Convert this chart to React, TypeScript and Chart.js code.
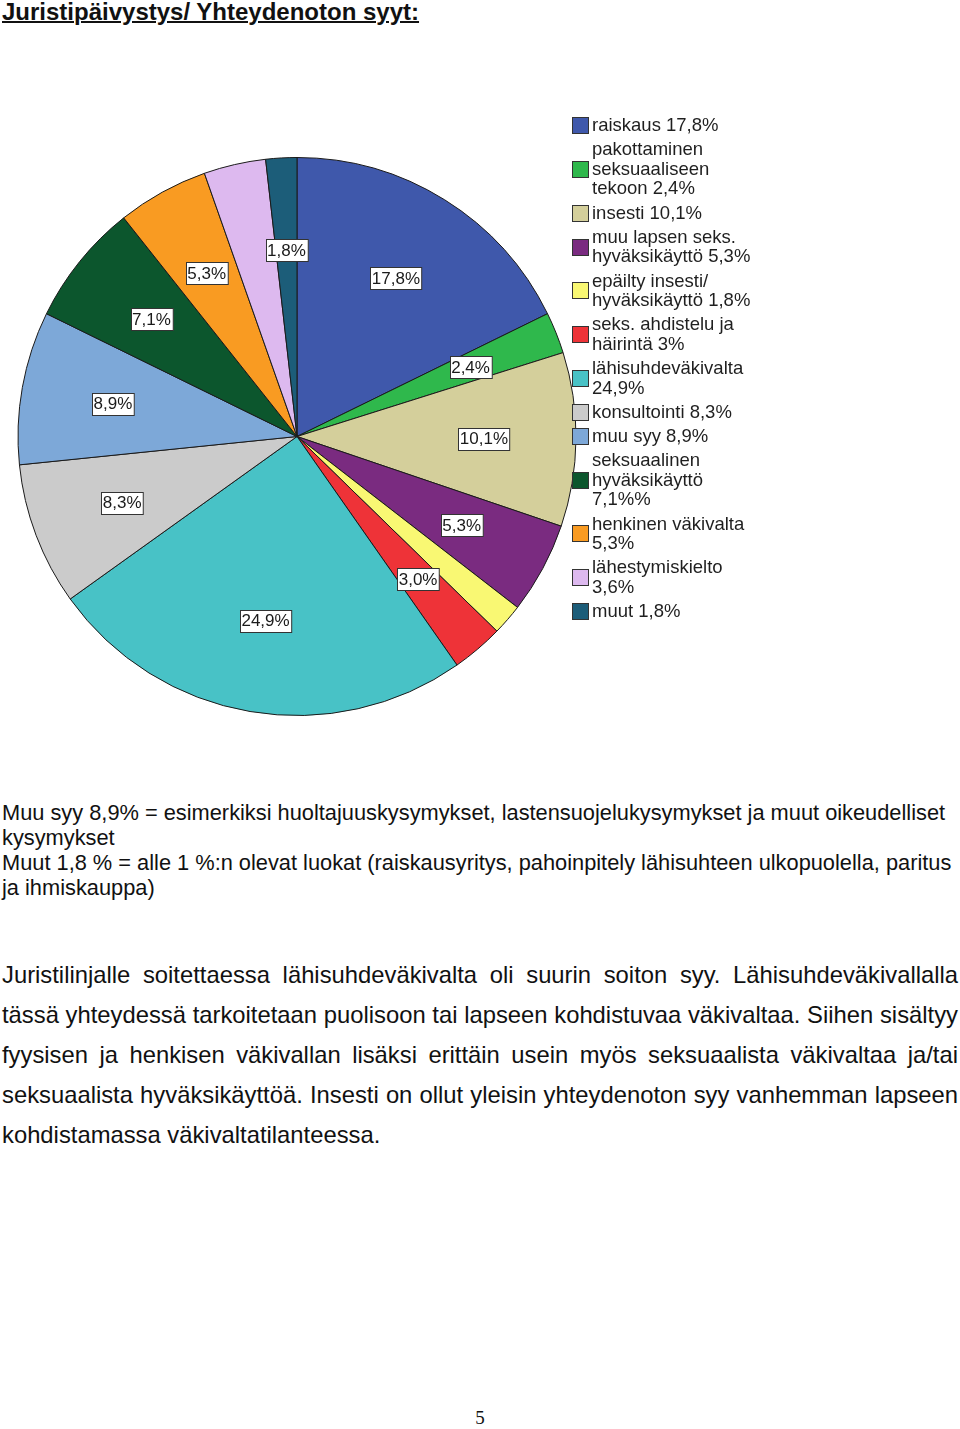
import React, { useEffect, useRef } from "react";
import { Chart, ArcElement, PieController } from "chart.js";

Chart.register(ArcElement, PieController);

const categories = [
  "raiskaus",
  "pakottaminen seksuaaliseen tekoon",
  "insesti",
  "muu lapsen seks. hyväksikäyttö",
  "epäilty insesti/ hyväksikäyttö",
  "seks. ahdistelu ja häirintä",
  "lähisuhdeväkivalta",
  "konsultointi",
  "muu syy",
  "seksuaalinen hyväksikäyttö",
  "henkinen väkivalta",
  "lähestymiskielto",
  "muut",
];

const values = [17.8, 2.4, 10.1, 5.3, 1.8, 3.0, 24.9, 8.3, 8.9, 7.1, 5.3, 3.6, 1.8];

const sliceLabels = ["17,8%", "2,4%", "10,1%", "5,3%", "", "3,0%", "24,9%", "8,3%", "8,9%", "7,1%", "5,3%", "", "1,8%"];

const legendLabels = [
  "raiskaus 17,8%",
  "pakottaminen\nseksuaaliseen\ntekoon 2,4%",
  "insesti 10,1%",
  "muu lapsen seks.\nhyväksikäyttö 5,3%",
  "epäilty insesti/\nhyväksikäyttö 1,8%",
  "seks. ahdistelu ja\nhäirintä 3%",
  "lähisuhdeväkivalta\n24,9%",
  "konsultointi 8,3%",
  "muu syy 8,9%",
  "seksuaalinen\nhyväksikäyttö\n7,1%%",
  "henkinen väkivalta\n5,3%",
  "lähestymiskielto\n3,6%",
  "muut 1,8%",
];

const colors = [
  "#3f58ab",
  "#2fb84c",
  "#d4cf9b",
  "#7a2b80",
  "#f9f873",
  "#ee3338",
  "#48c2c6",
  "#cbcbcb",
  "#7da8d8",
  "#0c562d",
  "#f99b22",
  "#ddb9ef",
  "#1c5d79",
];

const FONT = "'Liberation Sans', Arial, sans-serif";

const sliceLabelPlugin = {
  id: "sliceLabels",
  afterDatasetsDraw(chart: any) {
    const ctx = chart.ctx;
    const meta = chart.getDatasetMeta(0);
    ctx.save();
    ctx.font = `17px ${FONT}`;
    ctx.textAlign = "center";
    ctx.textBaseline = "middle";
    meta.data.forEach((arc: any, i: number) => {
      const text = sliceLabels[i];
      if (!text) return;
      const p = arc.getProps(["x", "y", "startAngle", "endAngle", "outerRadius"], true);
      const mid = (p.startAngle + p.endAngle) / 2;
      const r = p.outerRadius * 0.67;
      const cx = p.x + Math.cos(mid) * r;
      const cy = p.y + Math.sin(mid) * r;
      const w = ctx.measureText(text).width + 3;
      const h = 22;
      const bx = Math.round(cx - w / 2) + 0.5;
      const by = Math.round(cy - h / 2) + 0.5;
      ctx.fillStyle = "#ffffff";
      ctx.fillRect(bx, by, w, h);
      ctx.strokeStyle = "#333333";
      ctx.lineWidth = 1;
      ctx.strokeRect(bx, by, w, h);
      ctx.fillStyle = "#1a1a1a";
      ctx.fillText(text, cx, cy + 1);
    });
    ctx.restore();
  },
};

const legendPlugin = {
  id: "customLegend",
  afterDraw(chart: any) {
    const ctx = chart.ctx;
    ctx.save();
    ctx.font = `18.5px ${FONT}`;
    ctx.textAlign = "left";
    ctx.textBaseline = "middle";
    const lineH = 19.5;
    const gap = 4.75;
    let y = 25;
    const boxX = 572;
    const textX = 592;
    legendLabels.forEach((lab, i) => {
      const lines = lab.split("\n");
      const midY = y + ((lines.length - 1) * lineH) / 2;
      ctx.fillStyle = colors[i];
      ctx.fillRect(boxX + 0.5, Math.round(midY - 8) + 0.5, 16, 16);
      ctx.strokeStyle = "#333333";
      ctx.lineWidth = 1;
      ctx.strokeRect(boxX + 0.5, Math.round(midY - 8) + 0.5, 16, 16);
      ctx.fillStyle = "#1f1f1f";
      lines.forEach((ln, j) => {
        ctx.fillText(ln, textX, y + j * lineH + 1);
      });
      y += (lines.length - 1) * lineH + lineH + gap;
    });
    ctx.restore();
  },
};

const para1 = [
  "Muu syy 8,9% = esimerkiksi huoltajuuskysymykset, lastensuojelukysymykset ja muut oikeudelliset",
  "kysymykset",
  "Muut 1,8 % = alle 1 %:n olevat luokat (raiskausyritys, pahoinpitely lähisuhteen ulkopuolella, paritus",
  "ja ihmiskauppa)",
];

const para2 = [
  "Juristilinjalle soitettaessa lähisuhdeväkivalta oli suurin soiton syy. Lähisuhdeväkivallalla",
  "tässä yhteydessä tarkoitetaan puolisoon tai lapseen kohdistuvaa väkivaltaa. Siihen sisältyy",
  "fyysisen ja henkisen väkivallan lisäksi erittäin usein myös seksuaalista väkivaltaa ja/tai",
  "seksuaalista hyväksikäyttöä. Insesti on ollut yleisin yhteydenoton syy vanhemman lapseen",
  "kohdistamassa väkivaltatilanteessa.",
];

export default function App() {
  const canvasRef = useRef<HTMLCanvasElement | null>(null);

  useEffect(() => {
    if (!canvasRef.current) return;
    const chart = new Chart(canvasRef.current, {
      type: "pie",
      data: {
        labels: categories,
        datasets: [
          {
            data: values,
            backgroundColor: colors,
            borderColor: "#1a1a1a",
            borderWidth: 1,
            hoverOffset: 0,
          },
        ],
      },
      options: {
        responsive: false,
        animation: false,
        devicePixelRatio: 1,
        layout: { padding: { left: 17, right: 383, top: 57, bottom: 34 } },
        plugins: {
          legend: { display: false },
          tooltip: { enabled: false },
        },
        events: [],
      } as any,
      plugins: [sliceLabelPlugin, legendPlugin],
    });
    return () => chart.destroy();
  }, []);

  return (
    <div
      style={{
        position: "absolute",
        left: 0,
        top: 0,
        width: 960,
        height: 1429,
        background: "#ffffff",
        overflow: "hidden",
        fontFamily: FONT,
        color: "#111111",
      }}
    >
      <div
        style={{
          position: "absolute",
          left: 2,
          top: -1,
          fontSize: 24,
          lineHeight: "26px",
          fontWeight: "bold",
          textDecoration: "underline",
          textDecorationThickness: 2,
          whiteSpace: "nowrap",
        } as any}
      >
        Juristipäivystys/ Yhteydenoton syyt:
      </div>
      <canvas
        ref={canvasRef}
        width={960}
        height={650}
        style={{ position: "absolute", left: 0, top: 100, width: 960, height: 650 }}
      />
      <div style={{ position: "absolute", left: 2, top: 800, fontSize: 21.8, lineHeight: "25px" }}>
        {para1.map((l, i) => (
          <div key={i} style={{ whiteSpace: "nowrap", height: 25 }}>
            {l}
          </div>
        ))}
      </div>
      <div style={{ position: "absolute", left: 2, top: 955, width: 956, fontSize: 23.8, lineHeight: "40px" }}>
        {para2.map((l, i) => (
          <div
            key={i}
            style={{
              height: 40,
              textAlign: i < para2.length - 1 ? "justify" : "left",
              textAlignLast: i < para2.length - 1 ? "justify" : "left",
              whiteSpace: "nowrap",
            } as any}
          >
            {l}
          </div>
        ))}
      </div>
      <div
        style={{
          position: "absolute",
          left: 0,
          top: 1407,
          width: 960,
          textAlign: "center",
          fontFamily: "'Liberation Serif', 'Times New Roman', serif",
          fontSize: 19,
          lineHeight: "22px",
        }}
      >
        5
      </div>
    </div>
  );
}
